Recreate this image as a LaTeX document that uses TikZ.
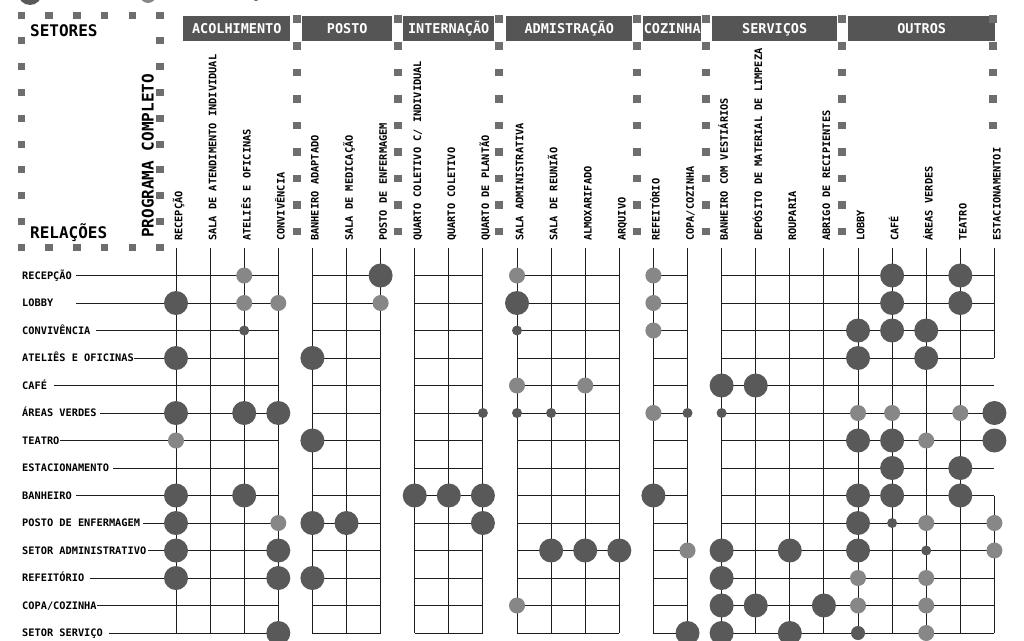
\documentclass[tikz,border=0pt]{standalone}
\usepackage{fontspec}
\newfontfamily\monofam{DejaVu Sans Mono}
\newcommand\rowfont{\monofam\bfseries\fontsize{10.3}{12}\selectfont}
\newcommand\hdrfont{\monofam\bfseries\fontsize{13.5}{15}\selectfont}
\newcommand\titlefont{\monofam\bfseries\fontsize{16}{18}\selectfont}
\definecolor{dk}{HTML}{595959}
\definecolor{lt}{HTML}{878787}
\definecolor{barc}{HTML}{555555}
\definecolor{sqc}{HTML}{6E6E6E}
\definecolor{lnc}{HTML}{1E1E1E}
\tikzset{
  rowlab/.style={anchor=base west, inner sep=0pt, font=\rowfont, text=black},
  collab/.style={rotate=90, anchor=base west, inner sep=0pt, font=\rowfont, text=black},
  hdr/.style={anchor=west, fill=barc, text=white, font=\hdrfont, inner sep=0pt,
              minimum height=25pt, text height=9.9pt, text depth=0pt},
  ttl/.style={inner sep=0pt, font=\titlefont, text=black},
  gridln/.style={draw=lnc, line width=1pt},
  DB/.style={circle, fill=dk, inner sep=0pt, minimum size=24pt},
  DM/.style={circle, fill=dk, inner sep=0pt, minimum size=14pt},
  DS/.style={circle, fill=dk, inner sep=0pt, minimum size=10pt},
  LM/.style={circle, fill=lt, inner sep=0pt, minimum size=16pt},
}
\begin{document}
\begin{tikzpicture}[x=1pt,y=-1pt]
\useasboundingbox (0,0) rectangle (1024,640);
\clip (0,0) rectangle (1024,640);
\fill[white] (0,0) rectangle (1024,640);

% cut-off legend at the top
\node[DB] (legA) at (30,-7) {};
\node[LM] (legB) at (148,-5) {};
\node[DS] (legC) at (256,-4) {};

% dotted box, top left
\foreach \x in {21.5,49.2,76.9,104.6,132.3,160} {
  \fill[sqc] (\x-3.75,15-3.5) rectangle +(7.5,7);
  \fill[sqc] (\x-3.75,247-3.5) rectangle +(7.5,7);
}
\foreach \y in {40.8,66.6,92.4,118.2,144,169.8,195.6,221.4} {
  \fill[sqc] (21.5-3.75,\y-3.5) rectangle +(7.5,7);
  \fill[sqc] (160-3.75,\y-3.5) rectangle +(7.5,7);
}
\node[ttl, anchor=base west] (setores) at (30,36) {SETORES};
\node[ttl, anchor=base west] (relacoes) at (30,238.5) {RELAÇÕES};
\node[ttl, rotate=90, anchor=base west] (programa) at (153.5,238) {PROGRAMA COMPLETO};

% header bars
\node[hdr, minimum width=107pt] (hA) at (183,28.5) {ACOLHIMENTO};
\node[hdr, minimum width=90pt] (hB) at (302,28.5) {POSTO};
\node[hdr, minimum width=91pt] (hC) at (403,28.5) {INTERNAÇÃO};
\node[hdr, minimum width=126pt] (hD) at (506,28.5) {ADMISTRAÇÃO};
\node[hdr, minimum width=58pt] (hE) at (643,28.5) {COZINHA};
\node[hdr, minimum width=125pt] (hF) at (712,28.5) {SERVIÇOS};
\node[hdr, minimum width=147pt] (hG) at (848,28.5) {OUTROS};

% separator squares
\foreach \x in {297,398,499,637,706,842} {
  \foreach \y in {19,46,72.5,99,125.5,152,178.5,205,231.5} {
    \fill[sqc] (\x-3.75,\y-3.75) rectangle +(7.5,7.5);
  }
}
\foreach \y in {19,46,72.5,99,125.5} {
  \fill[sqc] (993-3.75,\y-3.75) rectangle +(7.5,7.5);
}

% column labels
\foreach \k/\t in {0/RECEPÇÃO,1/SALA DE ATENDIMENTO INDIVIDUAL,2/ATELIÊS E OFICINAS,3/CONVIVÊNCIA,
  4/BANHEIRO ADAPTADO,5/SALA DE MEDICAÇÃO,6/POSTO DE ENFERMAGEM,
  7/{QUARTO COLETIVO C/ INDIVIDUAL},8/QUARTO COLETIVO,9/QUARTO DE PLANTÃO,
  10/SALA ADMINISTRATIVA,11/SALA DE REUNIÃO,12/ALMOXARIFADO,13/ARQUIVO,
  14/REFEITÓRIO,15/{COPA/COZINHA},
  16/BANHEIRO COM VESTIÁRIOS,17/DEPÓSITO DE MATERIAL DE LIMPEZA,18/ROUPARIA,19/ABRIGO DE RECIPIENTES,
  20/LOBBY,21/CAFÉ,22/ÁREAS VERDES,23/TEATRO,24/ESTACIONAMENTOI} {
  \node[collab] (c\k) at ({176+34.1*\k+6.3},241) {\t};
}

% row labels
\foreach \i/\t in {0/RECEPÇÃO,1/LOBBY,2/CONVIVÊNCIA,3/ATELIÊS E OFICINAS,4/CAFÉ,5/ÁREAS VERDES,
  6/TEATRO,7/ESTACIONAMENTO,8/BANHEIRO,9/POSTO DE ENFERMAGEM,10/SETOR ADMINISTRATIVO,
  11/REFEITÓRIO,12/{COPA/COZINHA},13/SETOR SERVIÇO} {
  \node[rowlab] (r\i) at (22,{275.5+27.5*\i+3.8}) {\t};
}

% group A: horizontal lines from the labels
\foreach \i/\xs in {0/76,1/76,2/96,3/134,4/54,5/100,6/60,7/113,8/76,9/143,10/148,11/90,12/97,13/109} {
  \draw[gridln] (\xs,{275.5+27.5*\i}) -- ({176+34.1*3},{275.5+27.5*\i});
}
% other groups: horizontal lines
\foreach \a/\b in {4/6,7/9,10/13,14/15,16/24} {
  \foreach \i in {0,...,13} {
    \draw[gridln] ({176+34.1*\a},{275.5+27.5*\i}) -- ({176+34.1*\b},{275.5+27.5*\i});
  }
}
% vertical lines
\foreach \k in {0,...,23} {
  \draw[gridln] ({176+34.1*\k},248) -- ({176+34.1*\k},633);
}
\draw[gridln] ({176+34.1*24},248) -- ({176+34.1*24},{275.5+27.5*3});
\draw[gridln] ({176+34.1*24},{275.5+27.5*8}) -- ({176+34.1*24},633);

% relation dots
\foreach \r/\c/\s in {
  0/2/LM, 0/6/DB, 0/10/LM, 0/14/LM, 0/21/DB, 0/23/DB,
  1/0/DB, 1/2/LM, 1/3/LM, 1/6/LM, 1/10/DB, 1/14/LM, 1/21/DB, 1/23/DB,
  2/2/DS, 2/10/DS, 2/14/LM, 2/20/DB, 2/21/DB, 2/22/DB,
  3/0/DB, 3/4/DB, 3/20/DB, 3/22/DB,
  4/10/LM, 4/12/LM, 4/16/DB, 4/17/DB,
  5/0/DB, 5/2/DB, 5/3/DB, 5/9/DS, 5/10/DS, 5/11/DS, 5/14/LM, 5/15/DS, 5/16/DS, 5/20/LM, 5/21/LM, 5/23/LM, 5/24/DB,
  6/0/LM, 6/4/DB, 6/20/DB, 6/21/DB, 6/22/LM, 6/24/DB,
  7/21/DB, 7/23/DB,
  8/0/DB, 8/2/DB, 8/7/DB, 8/8/DB, 8/9/DB, 8/14/DB, 8/20/DB, 8/21/DB, 8/23/DB,
  9/0/DB, 9/3/LM, 9/4/DB, 9/5/DB, 9/9/DB, 9/20/DB, 9/21/DS, 9/22/LM, 9/24/LM,
  10/0/DB, 10/3/DB, 10/11/DB, 10/12/DB, 10/13/DB, 10/15/LM, 10/16/DB, 10/18/DB, 10/20/DB, 10/22/DS, 10/24/LM,
  11/0/DB, 11/3/DB, 11/4/DB, 11/16/DB, 11/20/LM, 11/22/LM,
  12/10/LM, 12/16/DB, 12/17/DB, 12/19/DB, 12/20/LM, 12/22/LM,
  13/3/DB, 13/15/DB, 13/16/DB, 13/18/DB, 13/20/DM, 13/22/LM} {
  \node[\s] (d\r-\c) at ({176+34.1*\c},{275.5+27.5*\r}) {};
}
\end{tikzpicture}
\end{document}
